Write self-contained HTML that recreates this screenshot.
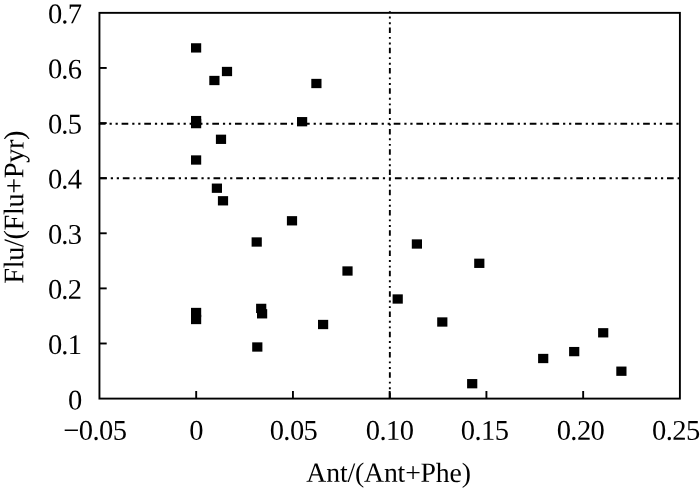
<!DOCTYPE html>
<html><head><meta charset="utf-8"><title>Flu/(Flu+Pyr) vs Ant/(Ant+Phe)</title>
<style>
html,body{margin:0;padding:0;background:#fff;width:700px;height:490px;overflow:hidden}
svg{display:block;will-change:transform}
.yt{letter-spacing:-0.86px}
.xt{letter-spacing:-0.57px}
</style></head><body>
<svg width="700" height="490" viewBox="0 0 700 490">
<rect width="700" height="490" fill="#fff"/>
<line x1="98.92" y1="123.75" x2="679.90" y2="123.75" stroke="#000" stroke-width="1.9" stroke-dasharray="6.7 3.95 2.2 3.8 2.2 3.825"/>
<line x1="100.12" y1="178.25" x2="679.90" y2="178.25" stroke="#000" stroke-width="1.9" stroke-dasharray="6.7 3.95 2.2 3.8 2.2 3.825"/>
<line x1="389.85" y1="11.3" x2="389.85" y2="398.60" stroke="#000" stroke-width="1.9" stroke-dasharray="5.5 3.9 1.9 3.75 1.9 3.33" stroke-dashoffset="4.08"/>
<line x1="99.45" y1="343.49" x2="106.7" y2="343.49" stroke="#000" stroke-width="1.9"/>
<line x1="99.45" y1="288.39" x2="106.7" y2="288.39" stroke="#000" stroke-width="1.9"/>
<line x1="99.45" y1="233.28" x2="106.7" y2="233.28" stroke="#000" stroke-width="1.9"/>
<line x1="99.45" y1="178.17" x2="106.7" y2="178.17" stroke="#000" stroke-width="1.9"/>
<line x1="99.45" y1="123.06" x2="106.7" y2="123.06" stroke="#000" stroke-width="1.9"/>
<line x1="99.45" y1="67.96" x2="106.7" y2="67.96" stroke="#000" stroke-width="1.9"/>
<line x1="196.19" y1="398.60" x2="196.19" y2="391" stroke="#000" stroke-width="1.9"/>
<line x1="292.93" y1="398.60" x2="292.93" y2="391" stroke="#000" stroke-width="1.9"/>
<line x1="389.68" y1="398.60" x2="389.68" y2="391" stroke="#000" stroke-width="1.9"/>
<line x1="486.42" y1="398.60" x2="486.42" y2="391" stroke="#000" stroke-width="1.9"/>
<line x1="583.16" y1="398.60" x2="583.16" y2="391" stroke="#000" stroke-width="1.9"/>
<rect x="99.45" y="12.85" width="580.45" height="385.75" fill="none" stroke="#000" stroke-width="1.9"/>
<rect x="191.00" y="43.25" width="10.2" height="9.3" fill="#000"/>
<rect x="209.30" y="75.85" width="10.2" height="9.3" fill="#000"/>
<rect x="221.90" y="66.85" width="10.2" height="9.3" fill="#000"/>
<rect x="311.30" y="78.85" width="10.2" height="9.3" fill="#000"/>
<rect x="191.00" y="115.95" width="10.2" height="9.3" fill="#000"/>
<rect x="191.00" y="118.95" width="10.2" height="9.3" fill="#000"/>
<rect x="297.00" y="117.05" width="10.2" height="9.3" fill="#000"/>
<rect x="215.90" y="134.65" width="10.2" height="9.3" fill="#000"/>
<rect x="191.00" y="155.35" width="10.2" height="9.3" fill="#000"/>
<rect x="211.80" y="183.55" width="10.2" height="9.3" fill="#000"/>
<rect x="217.90" y="196.15" width="10.2" height="9.3" fill="#000"/>
<rect x="286.90" y="216.15" width="10.2" height="9.3" fill="#000"/>
<rect x="251.60" y="237.35" width="10.2" height="9.3" fill="#000"/>
<rect x="411.80" y="239.35" width="10.2" height="9.3" fill="#000"/>
<rect x="342.40" y="266.35" width="10.2" height="9.3" fill="#000"/>
<rect x="474.20" y="258.65" width="10.2" height="9.3" fill="#000"/>
<rect x="392.60" y="294.35" width="10.2" height="9.3" fill="#000"/>
<rect x="191.00" y="307.85" width="10.2" height="9.3" fill="#000"/>
<rect x="191.00" y="314.85" width="10.2" height="9.3" fill="#000"/>
<rect x="256.10" y="303.75" width="10.2" height="9.3" fill="#000"/>
<rect x="257.00" y="309.15" width="10.2" height="9.3" fill="#000"/>
<rect x="318.00" y="319.85" width="10.2" height="9.3" fill="#000"/>
<rect x="437.20" y="317.35" width="10.2" height="9.3" fill="#000"/>
<rect x="252.20" y="342.35" width="10.2" height="9.3" fill="#000"/>
<rect x="598.10" y="328.15" width="10.2" height="9.3" fill="#000"/>
<rect x="538.10" y="353.85" width="10.2" height="9.3" fill="#000"/>
<rect x="569.10" y="346.95" width="10.2" height="9.3" fill="#000"/>
<rect x="467.10" y="379.05" width="10.2" height="9.3" fill="#000"/>
<rect x="616.30" y="366.55" width="10.2" height="9.3" fill="#000"/>
<g font-family="'Liberation Serif','Times New Roman',serif" font-size="28.5" fill="#000">
<text x="81.05" y="23.29" text-anchor="end" class="yt" transform="rotate(0.1 65 13.29)">0.7</text>
<text x="81.05" y="78.40" text-anchor="end" class="yt" transform="rotate(0.1 65 68.40)">0.6</text>
<text x="81.05" y="133.50" text-anchor="end" class="yt" transform="rotate(0.1 65 123.50)">0.5</text>
<text x="81.05" y="188.61" text-anchor="end" class="yt" transform="rotate(0.1 65 178.61)">0.4</text>
<text x="81.05" y="243.72" text-anchor="end" class="yt" transform="rotate(0.1 65 233.72)">0.3</text>
<text x="81.05" y="298.83" text-anchor="end" class="yt" transform="rotate(0.1 65 288.83)">0.2</text>
<text x="81.05" y="353.93" text-anchor="end" class="yt" transform="rotate(0.1 65 343.93)">0.1</text>
<text x="81.35" y="409.44" text-anchor="end" class="yt" transform="rotate(0.1 65 399.44)">0</text>
<text x="94.90" y="439.85" text-anchor="middle" class="xt" transform="rotate(0.1 94.90 430)">−0.05</text>
<text x="196.10" y="439.85" text-anchor="middle" class="xt" transform="rotate(0.1 196.10 430)">0</text>
<text x="293.50" y="439.85" text-anchor="middle" class="xt" transform="rotate(0.1 293.50 430)">0.05</text>
<text x="389.70" y="439.85" text-anchor="middle" class="xt" transform="rotate(0.1 389.70 430)">0.10</text>
<text x="484.60" y="439.85" text-anchor="middle" class="xt" transform="rotate(0.1 484.60 430)">0.15</text>
<text x="580.50" y="439.85" text-anchor="middle" class="xt" transform="rotate(0.1 580.50 430)">0.20</text>
<text x="675.80" y="439.85" text-anchor="middle" class="xt" transform="rotate(0.1 675.80 430)">0.25</text>
<text x="388.6" y="481.8" text-anchor="middle" class="lab" letter-spacing="-0.15" font-size="27.7" transform="rotate(0.1 388.6 472)">Ant/(Ant+Phe)</text>
<text transform="translate(23.3,207.25) rotate(-89.9)" x="0" y="0" text-anchor="middle" class="lab" letter-spacing="-0.36" font-size="28.3">Flu/(Flu+Pyr)</text>
</g>
</svg>
</body></html>
